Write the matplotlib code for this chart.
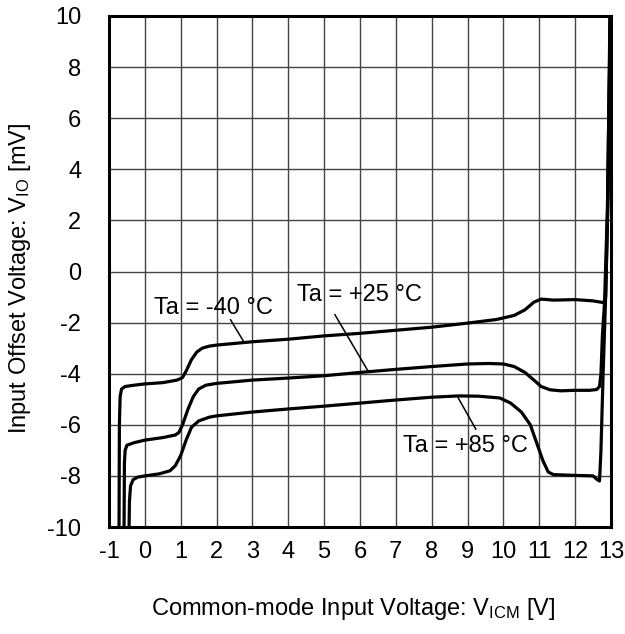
import matplotlib
matplotlib.use('Agg')
import matplotlib.pyplot as plt

plt.rcParams['font.family'] = ['Liberation Sans', 'DejaVu Sans']
plt.rcParams['mathtext.fontset'] = 'custom'
plt.rcParams['mathtext.rm'] = 'Liberation Sans'
plt.rcParams['mathtext.it'] = 'Liberation Sans'
plt.rcParams['axes.unicode_minus'] = False

# Ta = -40 C
x_m40 = [-0.72, -0.71, -0.69, -0.65, -0.55, -0.3, 0.0, 0.5, 0.9, 1.05, 1.15, 1.3, 1.45,
         1.6, 1.8, 2.0, 3.0, 4.0, 5.0, 6.0, 7.0, 8.0, 9.0, 9.8, 10.3, 10.6, 10.85, 11.05,
         11.4, 12.0, 12.5, 12.8, 12.85, 12.9, 12.97]
y_m40 = [-10.0, -6.0, -4.9, -4.6, -4.5, -4.45, -4.4, -4.35, -4.25, -4.15, -3.9, -3.45, -3.15,
         -3.0, -2.92, -2.88, -2.75, -2.65, -2.52, -2.42, -2.3, -2.18, -2.02, -1.88, -1.72, -1.5,
         -1.2, -1.08, -1.12, -1.1, -1.15, -1.22, -1.0, 2.0, 10.0]

# Ta = +25 C
x_25 = [-0.58, -0.57, -0.55, -0.5, -0.3, 0.0, 0.5, 0.85, 0.95, 1.05, 1.2, 1.35, 1.5, 1.7,
        2.0, 3.0, 4.0, 5.0, 6.0, 7.0, 8.0, 9.0, 9.6, 10.0, 10.3, 10.6, 10.85, 11.05, 11.3,
        11.6, 12.0, 12.4, 12.6, 12.68, 12.72, 12.76, 12.82, 12.9, 12.98]
y_25 = [-10.0, -7.5, -7.0, -6.8, -6.7, -6.6, -6.5, -6.4, -6.3, -6.0, -5.4, -4.9, -4.6, -4.45,
        -4.38, -4.25, -4.17, -4.08, -3.95, -3.83, -3.72, -3.62, -3.6, -3.62, -3.72, -3.95, -4.25,
        -4.5, -4.63, -4.67, -4.65, -4.65, -4.62, -4.5, -4.0, -2.5, -1.2, 2.5, 10.0]

# Ta = +85 C
x_85 = [-0.44, -0.43, -0.4, -0.33, -0.2, 0.0, 0.4, 0.7, 0.85, 1.0, 1.15, 1.3, 1.5, 1.8,
        2.0, 3.0, 4.0, 5.0, 6.0, 7.0, 8.0, 8.74, 9.3, 9.9, 10.2, 10.5, 10.75, 10.95, 11.1,
        11.25, 11.4, 12.0, 12.5, 12.62, 12.68, 12.72, 12.78, 12.85, 12.92, 12.98]
y_85 = [-10.0, -9.0, -8.4, -8.15, -8.05, -8.0, -7.92, -7.8, -7.6, -7.2, -6.6, -6.1, -5.85, -5.7,
        -5.65, -5.5, -5.38, -5.27, -5.15, -5.03, -4.92, -4.87, -4.88, -4.95, -5.15, -5.5, -6.0,
        -6.8, -7.4, -7.85, -7.95, -7.98, -8.0, -8.15, -8.2, -7.0, -4.0, -1.0, 3.0, 10.0]

labels = ['Ta = -40 °C', 'Ta = +25 °C', 'Ta = +85 °C']
label_xy = [(1.9, -1.43), (5.99, -0.93), (8.94, -6.82)]
leader_from = [(2.39, -1.89), (5.30, -1.69), (9.23, -6.17)]
leader_to = [(2.75, -2.73), (6.23, -3.91), (8.74, -4.95)]

fig = plt.figure(figsize=(6.25, 6.34), dpi=100)
ax = fig.add_axes([109 / 625, 1 - 527 / 634, 502 / 625, 511 / 634])

ax.set_xlim(-1, 13)
ax.set_ylim(-10, 10)
ax.set_xticks(range(-1, 14))
ax.set_yticks(range(-10, 11, 2))
ax.grid(True, color='#444444', linewidth=1.0)
ax.set_axisbelow(True)
for s in ax.spines.values():
    s.set_linewidth(2.2)
    s.set_color('black')
ax.tick_params(length=0, labelsize=17)
ax.tick_params(axis='x', pad=10)
ax.tick_params(axis='y', pad=20)

for xs, ys in [(x_m40, y_m40), (x_25, y_25), (x_85, y_85)]:
    ax.plot(xs, ys, color='black', linewidth=2.3, solid_joinstyle='round')

for lab, (tx, ty), (fx, fy), (ex, ey) in zip(labels, label_xy, leader_from, leader_to):
    ax.text(tx, ty, lab, fontsize=17, ha='center', va='center')
    ax.plot([fx, ex], [fy, ey], color='black', linewidth=1.1)

ax.set_xlabel('Common-mode Input Voltage: V$_{\\mathrm{ICM}}$ [V]', fontsize=17)
ax.set_ylabel('Input Offset Voltage: V$_{\\mathrm{IO}}$ [mV]', fontsize=17)
ax.xaxis.set_label_coords(0.486, -0.135)
ax.yaxis.set_label_coords(-0.151, 0.486)

fig.savefig('out.png', dpi=100)
